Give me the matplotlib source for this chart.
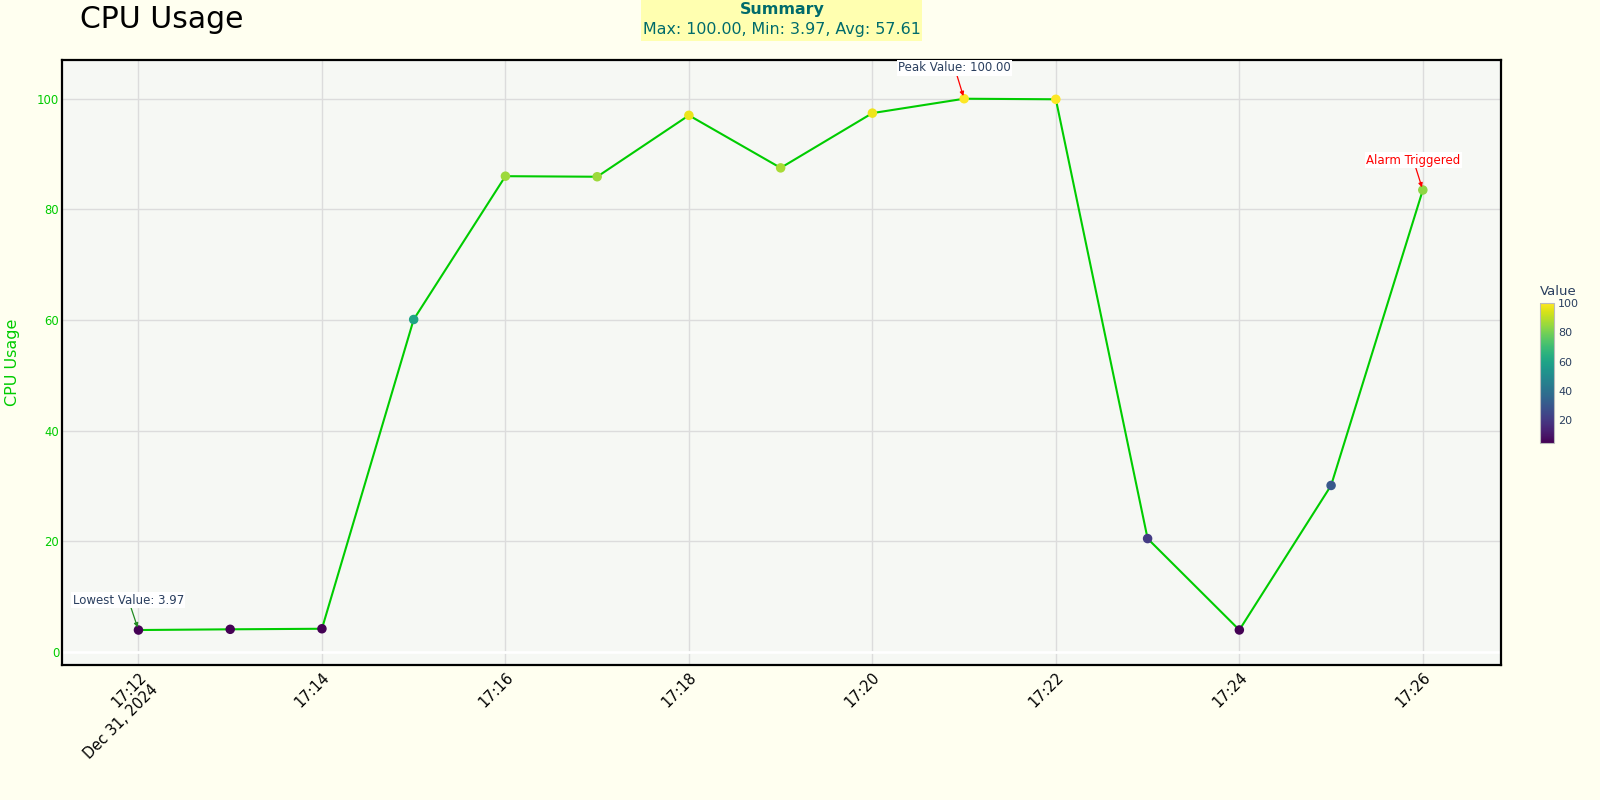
import matplotlib.pyplot as plt
import pandas as pd
from matplotlib.patches import Rectangle

# one reading per minute
times = ["2024-12-31 17:12", "2024-12-31 17:13", "2024-12-31 17:14", "2024-12-31 17:15",
         "2024-12-31 17:16", "2024-12-31 17:17", "2024-12-31 17:18", "2024-12-31 17:19",
         "2024-12-31 17:20", "2024-12-31 17:21", "2024-12-31 17:22", "2024-12-31 17:23",
         "2024-12-31 17:24", "2024-12-31 17:25", "2024-12-31 17:26"]
cpu = [3.97, 4.1, 4.2, 60.1, 86.0, 85.9, 97.0, 87.5, 97.4, 100.0, 99.9, 20.5, 3.98, 30.1, 83.5]

tick_times = ["2024-12-31 17:12", "2024-12-31 17:14", "2024-12-31 17:16", "2024-12-31 17:18",
              "2024-12-31 17:20", "2024-12-31 17:22", "2024-12-31 17:24", "2024-12-31 17:26"]
tick_labels = ["17:12\nDec 31, 2024", "17:14", "17:16", "17:18", "17:20", "17:22", "17:24", "17:26"]
y_ticks = [0, 20, 40, 60, 80, 100]
cbar_ticks = [20, 40, 60, 80, 100]

x = pd.to_datetime(times)
xt = pd.to_datetime(tick_times)
vmax, vmin, avg = max(cpu), min(cpu), sum(cpu) / len(cpu)
i_max = cpu.index(vmax)
i_min = cpu.index(vmin)

GREEN = "#00cc00"
DARK = "#2a3f5f"

plt.rcParams['font.family'] = ['DejaVu Sans']
fig = plt.figure(figsize=(16, 8), dpi=100, facecolor="#fffff0")
ax = fig.add_axes([0.03875, 0.16875, 0.89925, 0.75625])
ax.set_facecolor("#f6f8f4")

ax.axhline(0, color="white", lw=2, zorder=1)
ax.plot(x, cpu, color=GREEN, lw=1.5, zorder=2)
sc = ax.scatter(x, cpu, c=cpu, cmap="viridis", vmin=vmin, vmax=vmax, s=34, zorder=3)

ax.set_xlim(x[0] - pd.Timedelta(seconds=50), x[-1] + pd.Timedelta(seconds=51))
ax.set_ylim(-2.35, 107)
ax.set_yticks(y_ticks)
ax.set_xticks(xt)
ax.set_xticklabels(tick_labels, rotation=45, ha="right", va="top",
                   rotation_mode="anchor", multialignment="right", fontsize=10.5)
ax.tick_params(axis="y", length=0, pad=2, labelsize=8.4, labelcolor=GREEN)
ax.tick_params(axis="x", length=0, pad=3.5)
ax.grid(True, color="#dcdcdc", lw=1, zorder=0)
ax.set_axisbelow(True)
for sp in ax.spines.values():
    sp.set_linewidth(1.6)
    sp.set_color("black")

# annotations
ann = dict(textcoords="offset pixels", ha="center", va="center", fontsize=8.5,
           bbox=dict(fc="white", ec="none", pad=1))
ax.annotate(f"Lowest Value: {vmin:.2f}", xy=(x[i_min], vmin), xytext=(-10, 30), color=DARK,
            arrowprops=dict(arrowstyle="-|>", color="#228b22", lw=0.9, shrinkA=0, shrinkB=2,
                            mutation_scale=6), **ann)
ax.annotate(f"Peak Value: {vmax:.2f}", xy=(x[i_max], vmax), xytext=(-9.5, 31), color=DARK,
            arrowprops=dict(arrowstyle="-|>", color="red", lw=0.9, shrinkA=0, shrinkB=2,
                            mutation_scale=6), **ann)
ax.annotate("Alarm Triggered", xy=(x[-1], cpu[-1]), xytext=(-9.5, 30), color="red",
            arrowprops=dict(arrowstyle="-|>", color="red", lw=0.9, shrinkA=0, shrinkB=2,
                            mutation_scale=6), **ann)

# colorbar
cax = fig.add_axes([0.9625, 0.446, 0.00875, 0.175])
cb = fig.colorbar(sc, cax=cax, ticks=cbar_ticks)
cb.outline.set_edgecolor("#bbbbbb")
cb.outline.set_linewidth(0.8)
cax.tick_params(length=0, pad=3, labelsize=8, labelcolor=DARK)
fig.text(0.9625, 0.636, "Value", fontsize=9.5, color=DARK, ha="left", va="center")

# titles
fig.text(0.0497, 0.9758, "CPU Usage", fontsize=21.5, ha="left", va="center")
fig.text(0.0077, 0.5475, "CPU Usage", fontsize=11.5, color=GREEN, rotation=90,
         ha="center", va="center")

# summary box
fig.patches.append(Rectangle((641 / 1600, 0.949), 281 / 1600, 0.051, transform=fig.transFigure,
                             facecolor="#ffffb0", edgecolor="none", zorder=0))
fig.text(0.4888, 0.9885, "Summary", fontsize=11.4, fontweight="bold", color="#006b6b",
         ha="center", va="center")
fig.text(0.4888, 0.963, f"Max: {vmax:.2f}, Min: {vmin:.2f}, Avg: {avg:.2f}", fontsize=11.4,
         color="#006b6b", ha="center", va="center")

fig.savefig("out.png", dpi=100, facecolor=fig.get_facecolor())
